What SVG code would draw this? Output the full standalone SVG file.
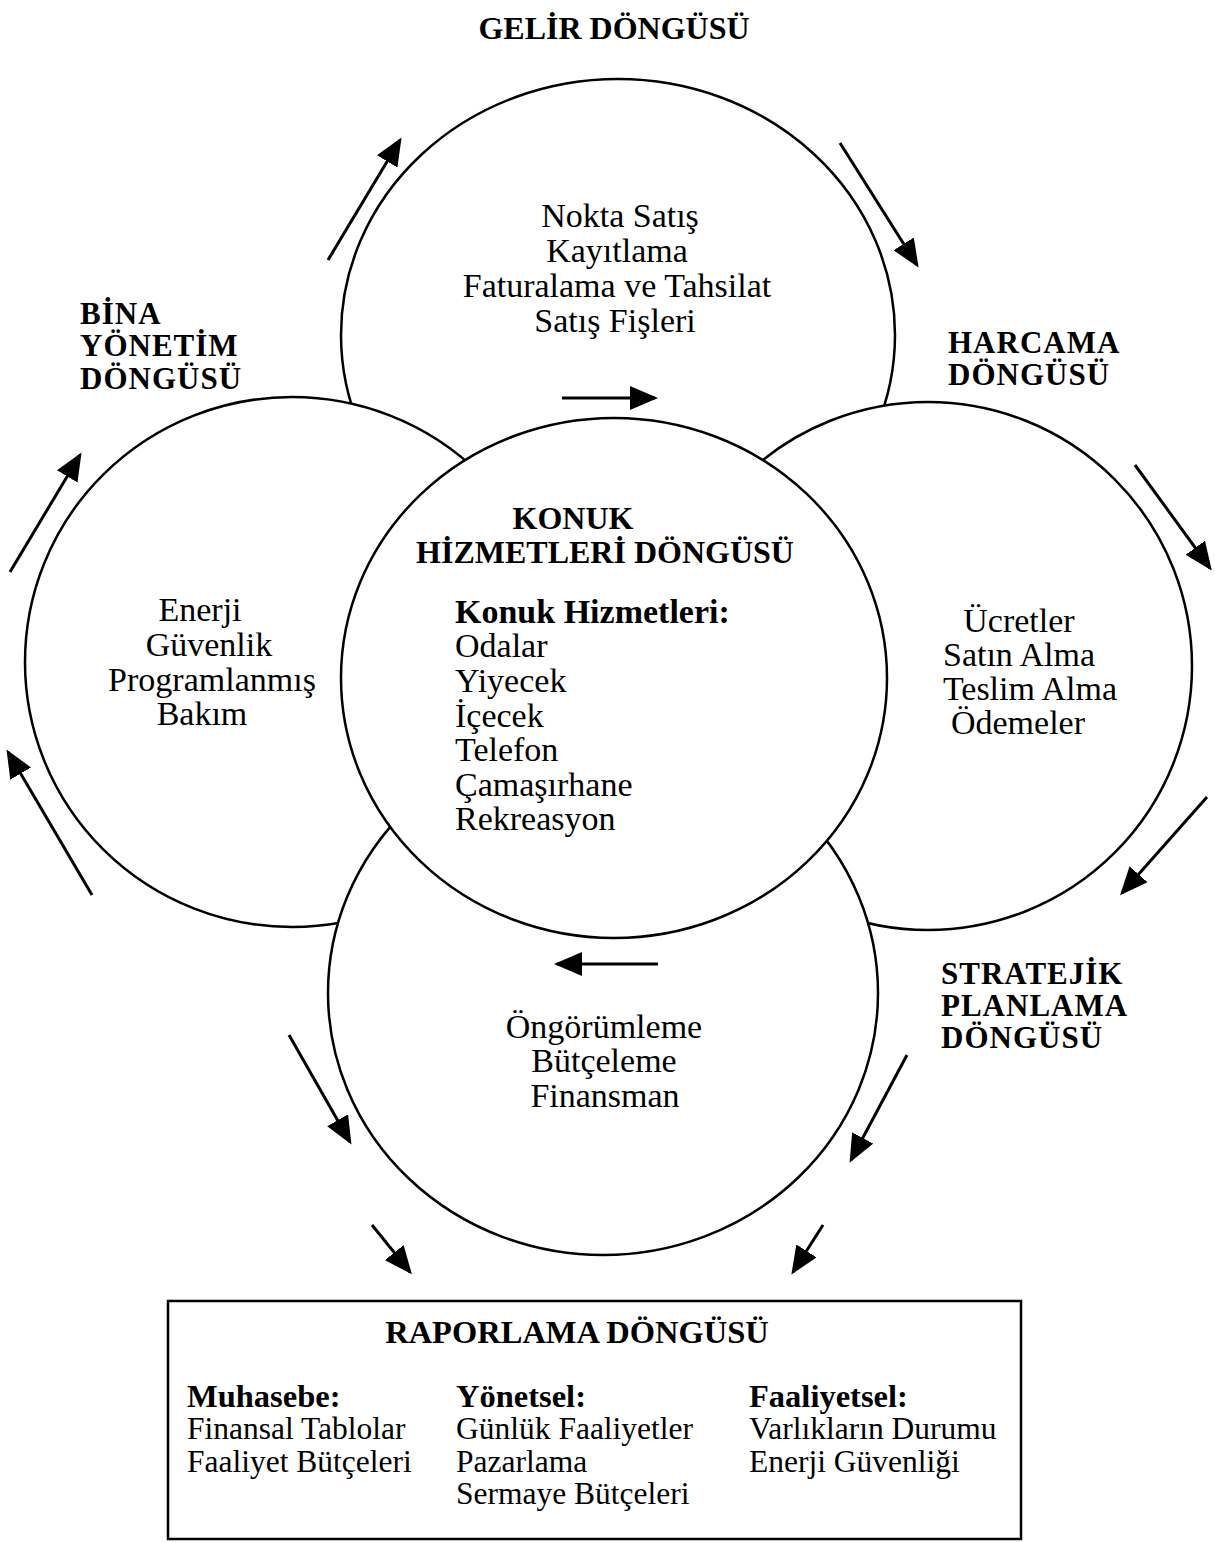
<svg xmlns="http://www.w3.org/2000/svg" width="1215" height="1543" viewBox="0 0 1215 1543">
<style>
.c{fill:#fff;stroke:#000;stroke-width:2.5}
.t{font-family:"Liberation Serif","Times New Roman",serif;font-size:34px;fill:#000}
.m{text-anchor:middle}
.h{font-family:"Liberation Serif","Times New Roman",serif;font-size:32px;font-weight:bold;fill:#000}
.s{font-family:"Liberation Serif","Times New Roman",serif;font-size:31px;font-weight:bold;letter-spacing:1px;fill:#000}
.hb{font-family:"Liberation Serif","Times New Roman",serif;font-size:32.5px;font-weight:bold;fill:#000}
.r{font-family:"Liberation Serif","Times New Roman",serif;font-size:31.5px;fill:#000}
.a{stroke:#000;stroke-width:3;fill:none;marker-end:url(#ah)}
</style>
<defs>
<marker id="ah" markerUnits="userSpaceOnUse" markerWidth="28" markerHeight="24" viewBox="0 0 28 24" refX="25" refY="12" orient="auto">
<path d="M0,0 L28,12 L0,24 z" fill="#000"/>
</marker>
</defs>
<rect width="1215" height="1543" fill="#fff"/>

<text class="h m" x="614" y="39">GELİR DÖNGÜSÜ</text>

<g id="gelir">
<ellipse class="c" cx="618" cy="335" rx="277" ry="256"/>
<text class="t m" x="620" y="227">Nokta Satış</text>
<text class="t m" x="617" y="262">Kayıtlama</text>
<text class="t m" x="617" y="297">Faturalama ve Tahsilat</text>
<text class="t m" x="615" y="332">Satış Fişleri</text>
</g>

<g id="bina">
<ellipse class="c" cx="292" cy="662" rx="267" ry="265"/>
<text class="t m" x="200" y="621">Enerji</text>
<text class="t m" x="209" y="656">Güvenlik</text>
<text class="t m" x="212" y="691">Programlanmış</text>
<text class="t m" x="202" y="725">Bakım</text>
</g>
<g id="bina-label">
<text class="s" x="80" y="324">BİNA</text>
<text class="s" x="80" y="356">YÖNETİM</text>
<text class="s" x="80" y="389">DÖNGÜSÜ</text>
</g>

<g id="harcama">
<ellipse class="c" cx="928" cy="666" rx="264" ry="264"/>
<text class="t m" x="1019" y="632">Ücretler</text>
<text class="t m" x="1019" y="666">Satın Alma</text>
<text class="t m" x="1030" y="700">Teslim Alma</text>
<text class="t m" x="1018" y="734">Ödemeler</text>
</g>
<g id="harcama-label">
<text class="s" x="948" y="353">HARCAMA</text>
<text class="s" x="948" y="385">DÖNGÜSÜ</text>
</g>

<g id="stratejik">
<ellipse class="c" cx="603" cy="993" rx="275" ry="262"/>
<text class="t m" x="604" y="1038">Öngörümleme</text>
<text class="t m" x="604" y="1072">Bütçeleme</text>
<text class="t m" x="605" y="1107">Finansman</text>
</g>
<g id="stratejik-label">
<text class="s" x="941" y="984">STRATEJİK</text>
<text class="s" x="941" y="1016">PLANLAMA</text>
<text class="s" x="941" y="1048">DÖNGÜSÜ</text>
</g>

<g id="konuk">
<ellipse class="c" cx="614" cy="678" rx="273" ry="260"/>
<text class="h m" x="573" y="529">KONUK</text>
<text class="h m" x="605" y="563">HİZMETLERİ DÖNGÜSÜ</text>
<text class="t" x="455" y="623" font-weight="bold">Konuk Hizmetleri:</text>
<text class="t" x="455" y="657">Odalar</text>
<text class="t" x="455" y="692">Yiyecek</text>
<text class="t" x="455" y="727">İçecek</text>
<text class="t" x="455" y="761">Telefon</text>
<text class="t" x="455" y="796">Çamaşırhane</text>
<text class="t" x="455" y="830">Rekreasyon</text>
</g>

<g id="raporlama">
<rect x="168" y="1301" width="853" height="238" fill="none" stroke="#000" stroke-width="2.5"/>
<text class="hb m" x="577" y="1343" font-size="33px">RAPORLAMA DÖNGÜSÜ</text>
<text class="hb" x="187" y="1407">Muhasebe:</text>
<text class="r" x="187" y="1439">Finansal Tablolar</text>
<text class="r" x="187" y="1472">Faaliyet Bütçeleri</text>
<text class="hb" x="456" y="1407">Yönetsel:</text>
<text class="r" x="456" y="1439">Günlük Faaliyetler</text>
<text class="r" x="456" y="1472">Pazarlama</text>
<text class="r" x="456" y="1504">Sermaye Bütçeleri</text>
<text class="hb" x="749" y="1407">Faaliyetsel:</text>
<text class="r" x="749" y="1439">Varlıkların Durumu</text>
<text class="r" x="749" y="1472">Enerji Güvenliği</text>
</g>

<g id="connectors">
<line class="a" x1="328" y1="260" x2="400" y2="140"/>
<line class="a" x1="840" y1="143" x2="917" y2="265"/>
<line class="a" x1="562" y1="398" x2="655" y2="398"/>
<line class="a" x1="10" y1="572" x2="80" y2="455"/>
<line class="a" x1="92" y1="895" x2="8" y2="752"/>
<line class="a" x1="1135" y1="465" x2="1210" y2="568"/>
<line class="a" x1="1207" y1="797" x2="1122" y2="893"/>
<line class="a" x1="658" y1="964" x2="557" y2="964"/>
<line class="a" x1="289" y1="1035" x2="350" y2="1142"/>
<line class="a" x1="907" y1="1055" x2="851" y2="1160"/>
<line class="a" x1="372" y1="1225" x2="410" y2="1272"/>
<line class="a" x1="823" y1="1225" x2="793" y2="1272"/>
</g>
</svg>
